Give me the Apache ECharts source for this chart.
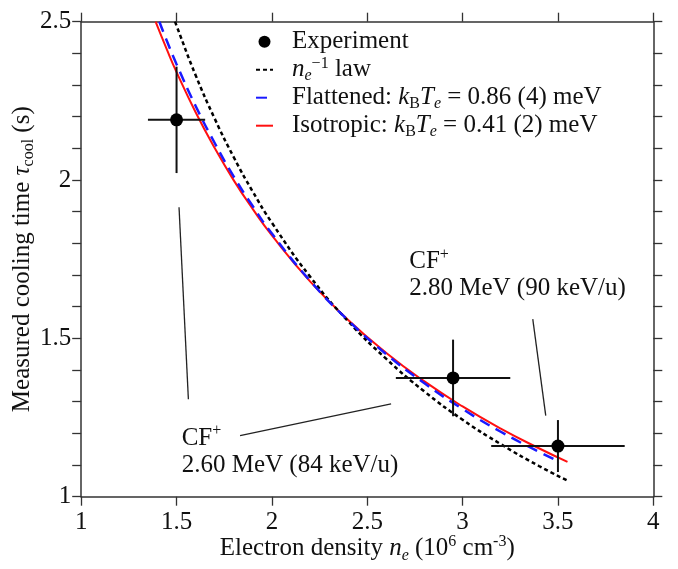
<!DOCTYPE html>
<html><head><meta charset="utf-8">
<script src="https://cdn.jsdelivr.net/npm/echarts@6/dist/echarts.min.js"></script>
<style>html,body{margin:0;padding:0;background:#fff}#c{width:678px;height:569px}</style>
</head><body><div id="c"></div>
<script>
// ---- data ----
const expX    = [1.5, 2.95, 3.5];
const expY    = [2.19, 1.375, 1.16];
const expXErr = [0.15, 0.30, 0.35];
const expYErr = [0.168, 0.121, 0.082];

const lawX = [1.492, 1.5, 1.6, 1.7, 1.8, 1.9, 2.0, 2.2, 2.4, 2.6, 2.8, 3.0, 3.2, 3.4, 3.55];
const lawY = [2.500, 2.487, 2.331, 2.194, 2.072, 1.963, 1.865, 1.695, 1.554, 1.435, 1.332, 1.243, 1.166, 1.097, 1.051];

const flatX = [1.41, 1.45, 1.5, 1.6, 1.7, 1.8, 1.9, 2.0, 2.2, 2.4, 2.6, 2.8, 3.0, 3.2, 3.4, 3.51];
const flatY = [2.500, 2.438, 2.366, 2.234, 2.117, 2.011, 1.917, 1.831, 1.682, 1.557, 1.450, 1.358, 1.277, 1.205, 1.142, 1.110];

const isoX = [1.39, 1.45, 1.5, 1.6, 1.7, 1.8, 1.9, 2.0, 2.2, 2.4, 2.6, 2.8, 3.0, 3.2, 3.4, 3.55];
const isoY = [2.500, 2.411, 2.341, 2.214, 2.101, 1.999, 1.908, 1.825, 1.680, 1.558, 1.454, 1.364, 1.285, 1.215, 1.153, 1.110];

const xMin = 1, xMax = 4, xStep = 0.5;
const yMin = 1, yMax = 2.5, yStep = 0.5;

// annotations (data coordinates)
const annotTexts = [
  { x: 2.720, y: 1.743, text: 'CF{sup|+}' },
  { x: 2.720, y: 1.659, text: '2.80 MeV (90 keV/u)' },
  { x: 1.527, y: 1.185, text: 'CF{sup|+}' },
  { x: 1.527, y: 1.0985, text: '2.60 MeV (84 keV/u)' }
];
const annotLines = [
  [[1.513, 1.914], [1.562, 1.308]],
  [[1.833, 1.193], [2.625, 1.293]],
  [[3.368, 1.561], [3.436, 1.256]]
];

// ---- styling ----
const FF = 'Liberation Serif, Times New Roman, serif';
const FS = 25;
const TXT = '#111';
const AX = '#333';
function makeRich(lh) {
  return {
    i:    { fontFamily: FF, fontSize: FS, fontStyle: 'italic', color: TXT, lineHeight: lh },
    t:    { fontFamily: FF, fontSize: FS, color: TXT, lineHeight: lh },
    sub:  { fontFamily: FF, fontSize: 16, color: TXT, verticalAlign: 'bottom', lineHeight: 16 },
    isub: { fontFamily: FF, fontSize: 16, fontStyle: 'italic', color: TXT, verticalAlign: 'bottom', lineHeight: 16 },
    sup:  { fontFamily: FF, fontSize: 16, color: TXT, verticalAlign: 'top', lineHeight: 16 },
    g:    { width: 14, fontSize: FS, lineHeight: lh }
  };
}
const rich = makeRich(30);
const legendRich = makeRich(28);
const zr = {};
for (const k in rich) { const s = Object.assign({}, rich[k]); if (s.color) { s.fill = s.color; delete s.color; } zr[k] = s; }

const legendLabels = {
  'Experiment': '{g| }Experiment',
  'law': '{g| }{i|n}{isub|e}{sup|\u22121} law',
  'Flattened': '{g| }Flattened: {i|k}{sub|B}{i|T}{isub|e} = 0.86 (4) meV',
  'Isotropic': '{g| }Isotropic: {i|k}{sub|B}{i|T}{isub|e} = 0.41 (2) meV'
};

const zip = (a, b) => a.map((v, i) => [v, b[i]]);

function axisBase(extra) {
  return Object.assign({
    type: 'value',
    axisLine: { show: true, onZero: false, lineStyle: { color: AX, width: 1.5 } },
    axisTick: { show: true, inside: false, length: 9, lineStyle: { color: AX, width: 1.3 } },
    splitLine: { show: false },
    nameMoveOverlap: false,
    axisLabel: { fontFamily: FF, fontSize: FS, color: TXT, margin: 10 }
  }, extra);
}

const chart = echarts.init(document.getElementById('c'), null, { renderer: 'canvas' });
const option = {
  animation: false,
  backgroundColor: '#fff',
  grid: { left: 81.2, right: 24.7, top: 21.7, bottom: 72.3, containLabel: false, outerBoundsMode: 'none' },
  xAxis: [
    axisBase({ min: xMin, max: xMax, interval: xStep, position: 'bottom',
      axisLabel: { fontFamily: FF, fontSize: FS, color: TXT, margin: 13 },
      name: 'Electron density {i|n}{isub|e} (10{sup|6} cm{sup|-3})',
      nameLocation: 'middle', nameGap: 37,
      nameTextStyle: { fontFamily: FF, fontSize: FS, color: TXT, lineHeight: 30, rich: rich } }),
    axisBase({ min: xMin, max: xMax, interval: xStep, position: 'top', axisLabel: { show: false } })
  ],
  yAxis: [
    axisBase({ min: yMin, max: yMax, interval: yStep, position: 'left',
      axisLabel: { fontFamily: FF, fontSize: FS, color: TXT, margin: 10 },
      minorTick: { show: true, splitNumber: 5, length: 9, lineStyle: { color: AX, width: 1.3 } },
      name: '{t|Measured cooling time }{i|\u03c4}{sub|cool}{t| (s)}',
      nameLocation: 'middle', nameGap: 44, nameRotate: 90,
      nameTextStyle: { fontFamily: FF, fontSize: FS, color: TXT, lineHeight: 30, rich: rich } }),
    axisBase({ min: yMin, max: yMax, interval: yStep, position: 'right', axisLabel: { show: false },
      minorTick: { show: true, splitNumber: 5, length: 9, lineStyle: { color: AX, width: 1.3 } } })
  ],
  legend: {
    orient: 'vertical', left: 255, top: 27.7, padding: 0, itemWidth: 17, itemHeight: 12, itemGap: 0,
    selectedMode: false,
    data: [
      { name: 'Experiment' },
      { name: 'law', itemStyle: { opacity: 0 } },
      { name: 'Flattened', itemStyle: { opacity: 0 } },
      { name: 'Isotropic', itemStyle: { opacity: 0 } }
    ],
    formatter: n => legendLabels[n],
    textStyle: { fontFamily: FF, fontSize: FS, color: TXT, lineHeight: 28, rich: legendRich }
  },
  series: [
    {
      name: 'law', type: 'line', data: zip(lawX, lawY), showSymbol: false, symbol: 'none', smooth: true,
      lineStyle: { color: '#000', width: 2.5, type: [4, 3] }, itemStyle: { color: '#000' }, z: 3
    },
    {
      name: 'Flattened', type: 'line', data: zip(flatX, flatY), showSymbol: false, symbol: 'none', smooth: true,
      lineStyle: { color: '#1a1aff', width: 2.5, type: [11, 7] }, itemStyle: { color: '#1a1aff' }, z: 4
    },
    {
      name: 'Isotropic', type: 'line', data: zip(isoX, isoY), showSymbol: false, symbol: 'none', smooth: true,
      lineStyle: { color: '#ff1010', width: 2 }, itemStyle: { color: '#ff1010' }, z: 2
    },
    {
      name: 'errbars', type: 'custom', z: 5,
      data: expX.map((x, i) => [x, expY[i], expXErr[i], expYErr[i]]),
      encode: { x: 0, y: 1 },
      renderItem: function (params, api) {
        const x = api.value(0), y = api.value(1), dx = api.value(2), dy = api.value(3);
        const l = api.coord([x - dx, y]), r = api.coord([x + dx, y]);
        const t = api.coord([x, y + dy]), b = api.coord([x, y - dy]);
        const st = { stroke: '#111', lineWidth: 2 };
        return { type: 'group', children: [
          { type: 'line', shape: { x1: l[0], y1: l[1], x2: r[0], y2: r[1] }, style: st },
          { type: 'line', shape: { x1: t[0], y1: t[1], x2: b[0], y2: b[1] }, style: st }
        ] };
      }
    },
    {
      name: 'Experiment', type: 'scatter', data: zip(expX, expY), symbol: 'circle', symbolSize: 13,
      itemStyle: { color: '#000', opacity: 1 }, z: 6,
      markLine: {
        silent: true, symbol: ['none', 'none'], label: { show: false },
        lineStyle: { color: '#222', width: 1.3, type: 'solid' },
        data: annotLines.map(p => [{ coord: p[0] }, { coord: p[1] }])
      }
    }
  ]
};
chart.setOption(option);

const graphics = annotTexts.map(a => {
  const p = chart.convertToPixel({ xAxisIndex: 0, yAxisIndex: 0 }, [a.x, a.y]);
  return {
    type: 'text', x: p[0], y: p[1], z: 10,
    style: { text: a.text, fontFamily: FF, fontSize: FS, fill: TXT, lineHeight: 30,
             align: 'left', verticalAlign: 'middle', rich: zr }
  };
});
chart.setOption({ graphic: graphics });
</script>
</body></html>
